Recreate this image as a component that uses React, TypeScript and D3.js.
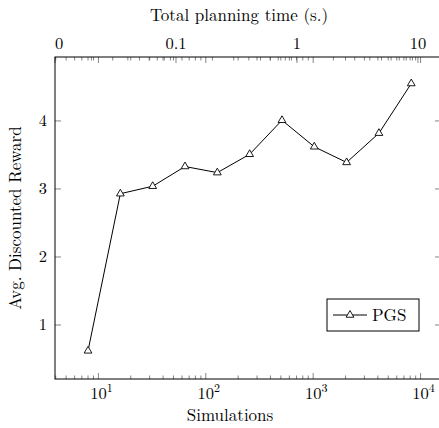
import * as d3 from "d3";
import React, { useEffect, useRef } from "react";

// data
const simulations = [8, 16, 32, 64, 128, 256, 512, 1024, 2048, 4096, 8192];
const rewards = [0.62, 2.93, 3.04, 3.33, 3.24, 3.51, 4.01, 3.62, 3.39, 3.82, 4.55];
const yTicks = [1, 2, 3, 4];
const simTicks = [10, 100, 1000, 10000];
const simTickLabels = ["1", "2", "3", "4"];
const timeTicks = [0.01, 0.1, 1, 10];
const timeTickLabels = ["0", "0.1", "1", "10"];
const seriesName = "PGS";

const W = 439;
const H = 428;
const FONT = '"Latin Modern Roman", "Liberation Serif", serif';

const App = () => {
  const ref = useRef<SVGSVGElement | null>(null);

  useEffect(() => {
    const svg = d3.select(ref.current);
    svg.selectAll("*").remove();

    const left = 55, right = 441, top = 57, bottom = 379;

    const x = d3.scaleLog().domain([3.94, 15500]).range([left, right]);
    const xTime = d3.scaleLog().domain([0.01, 15.5]).range([left, right]);
    const y = d3.scaleLinear().domain([0.206, 4.94]).range([bottom, top]);

    const g = svg.append("g");
    const txt = (sel: any) => sel.style("font-family", FONT).attr("fill", "#000");

    // minor / major tick positions for log axes
    const logTicks = (sc: d3.ScaleLogarithmic<number, number>) => {
      const [a, b] = sc.domain();
      const out: { v: number; major: boolean }[] = [];
      for (let e = Math.floor(Math.log10(a)); e <= Math.ceil(Math.log10(b)); e++) {
        for (let k = 1; k <= 9; k++) {
          const v = k * Math.pow(10, e);
          if (v >= a && v <= b) out.push({ v, major: k === 1 });
        }
      }
      return out;
    };

    const tickColor = "#666";

    // bottom ticks (inward), mirrored on top
    logTicks(x).forEach((t) => {
      const len = t.major ? 6 : 3.5;
      g.append("line")
        .attr("x1", x(t.v)).attr("x2", x(t.v))
        .attr("y1", bottom).attr("y2", bottom - len)
        .attr("stroke", tickColor).attr("stroke-width", 0.8);
      g.append("line")
        .attr("x1", x(t.v)).attr("x2", x(t.v))
        .attr("y1", top).attr("y2", top + len)
        .attr("stroke", tickColor).attr("stroke-width", 0.8);
    });

    // top time axis ticks
    logTicks(xTime).forEach((t) => {
      const len = t.major ? 6 : 3.5;
      g.append("line")
        .attr("x1", xTime(t.v)).attr("x2", xTime(t.v))
        .attr("y1", top).attr("y2", top + len)
        .attr("stroke", tickColor).attr("stroke-width", 0.8);
    });

    // y ticks left and right
    yTicks.forEach((v) => {
      g.append("line")
        .attr("x1", left).attr("x2", left + 6)
        .attr("y1", y(v)).attr("y2", y(v))
        .attr("stroke", tickColor).attr("stroke-width", 0.8);
      g.append("line")
        .attr("x1", right - 6).attr("x2", right)
        .attr("y1", y(v)).attr("y2", y(v))
        .attr("stroke", tickColor).attr("stroke-width", 0.8);
      g.append("text")
        .call(txt)
        .attr("x", left - 8).attr("y", y(v) + 5.5)
        .attr("text-anchor", "end")
        .attr("font-size", 16.5)
        .text(String(v));
    });

    // frame
    g.append("rect")
      .attr("x", left).attr("y", top)
      .attr("width", right - left).attr("height", bottom - top)
      .attr("fill", "none").attr("stroke", "#000").attr("stroke-width", 1);

    // bottom labels 10^k
    simTicks.forEach((v, i) => {
      const t = g.append("text")
        .call(txt)
        .attr("x", x(v) + 3).attr("y", bottom + 20)
        .attr("text-anchor", "middle")
        .attr("font-size", 16.5);
      t.append("tspan").text("10");
      t.append("tspan").attr("dy", -7).attr("font-size", 12).text(simTickLabels[i]);
    });

    // top labels
    timeTicks.forEach((v, i) => {
      g.append("text")
        .call(txt)
        .attr("x", xTime(v) + (i === 0 ? 4 : 0)).attr("y", top - 8)
        .attr("text-anchor", "middle")
        .attr("font-size", 16.5)
        .text(timeTickLabels[i]);
    });

    // axis titles
    g.append("text")
      .call(txt)
      .attr("x", 230).attr("y", 421)
      .attr("text-anchor", "middle")
      .attr("font-size", 17)
      .text("Simulations");
    g.append("text")
      .call(txt)
      .attr("x", 239).attr("y", 21)
      .attr("text-anchor", "middle")
      .attr("font-size", 17)
      .text("Total planning time (s.)");
    g.append("text")
      .call(txt)
      .attr("transform", `translate(21, ${(top + bottom) / 2}) rotate(-90)`)
      .attr("text-anchor", "middle")
      .attr("font-size", 17)
      .text("Avg. Discounted Reward");

    // series
    const pts = simulations.map((s, i) => [x(s), y(rewards[i])] as [number, number]);
    g.append("path")
      .attr("d", d3.line()(pts))
      .attr("fill", "none").attr("stroke", "#000").attr("stroke-width", 1);

    const tri = d3.symbol().type(d3.symbolTriangle).size(26);
    g.selectAll(".pt")
      .data(pts)
      .enter()
      .append("path")
      .attr("transform", (d) => `translate(${d[0]},${d[1]})`)
      .attr("d", tri())
      .attr("fill", "#fff").attr("stroke", "#000").attr("stroke-width", 0.9);

    // legend
    const lx = 327, ly = 299, lw = 92, lh = 32;
    g.append("rect")
      .attr("x", lx).attr("y", ly).attr("width", lw).attr("height", lh)
      .attr("fill", "#fff").attr("stroke", "#000").attr("stroke-width", 1);
    g.append("line")
      .attr("x1", lx + 6).attr("x2", lx + 40)
      .attr("y1", ly + lh / 2).attr("y2", ly + lh / 2)
      .attr("stroke", "#000").attr("stroke-width", 1);
    g.append("path")
      .attr("transform", `translate(${lx + 23},${ly + lh / 2})`)
      .attr("d", tri())
      .attr("fill", "#fff").attr("stroke", "#000").attr("stroke-width", 0.9);
    g.append("text")
      .call(txt)
      .attr("x", lx + 45).attr("y", ly + lh / 2 + 6)
      .attr("font-size", 17)
      .text(seriesName);
  }, []);

  return (
    <svg
      ref={ref}
      width={W}
      height={H}
      style={{ position: "absolute", left: 0, top: 0, overflow: "hidden", background: "#fff" }}
    />
  );
};

export default App;
